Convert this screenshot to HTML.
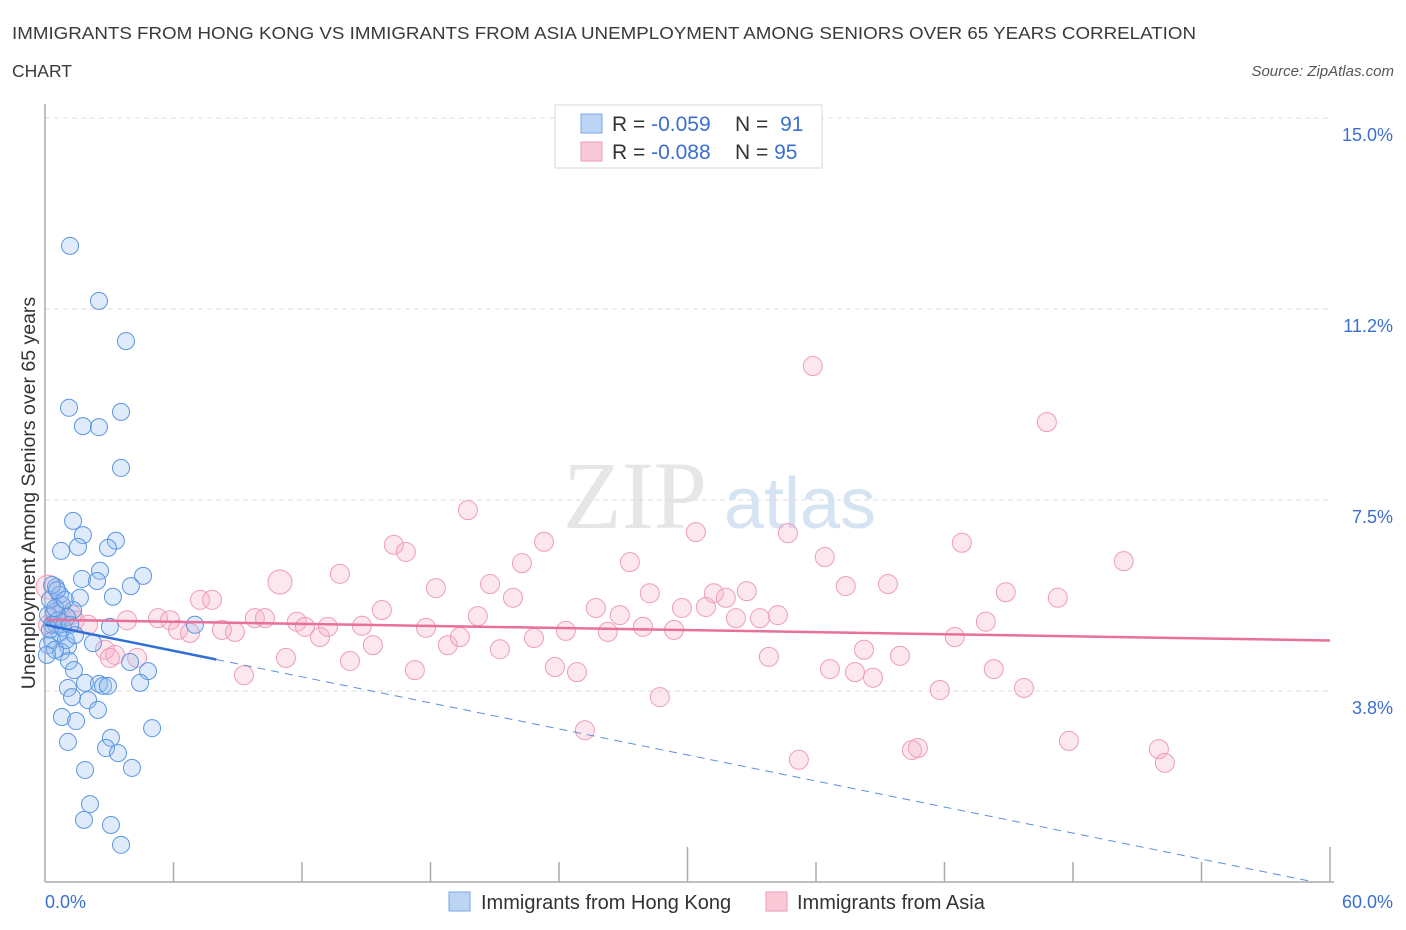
<!DOCTYPE html>
<html><head><meta charset="utf-8"><style>
body{margin:0;background:#fff;font-family:"Liberation Sans",sans-serif;}
svg{display:block}
</style></head><body>
<svg id="chart" width="1406" height="930">
<text x="12" y="39" font-size="17.5" fill="#3a3a3a" textLength="1184" lengthAdjust="spacingAndGlyphs">IMMIGRANTS FROM HONG KONG VS IMMIGRANTS FROM ASIA UNEMPLOYMENT AMONG SENIORS OVER 65 YEARS CORRELATION</text>
<text x="12" y="77" font-size="17.5" fill="#3a3a3a">CHART</text>
<text x="1394" y="76" font-size="15" font-style="italic" fill="#555" text-anchor="end">Source: ZipAtlas.com</text>
<text x="635" y="528" font-size="96" font-family="Liberation Serif,serif" fill="#e6e6e6" text-anchor="middle">ZIP</text>
<text x="800" y="528" font-size="72" fill="#d5e3f3" text-anchor="middle">atlas</text>
<g id="grid"></g><g id="axes"></g><g id="pts"></g><g id="trend"></g>
<text transform="translate(35,493) rotate(-90)" font-size="19.5" fill="#333" text-anchor="middle">Unemployment Among Seniors over 65 years</text>
<text x="45" y="908" font-size="18" fill="#3a6fd0">0.0%</text>
<text x="1393" y="908" font-size="18" fill="#3a6fd0" text-anchor="end">60.0%</text>
<g>
<rect x="555" y="105" width="267" height="63" fill="#fff" stroke="#d8d8d8"/>
<rect x="581" y="114" width="21" height="19" fill="#bcd5f5" stroke="#7aa6e6"/>
<rect x="581" y="142" width="21" height="19" fill="#f9c9d8" stroke="#ee9ab5"/>
<text x="612" y="131" font-size="21" fill="#333">R = <tspan fill="#3a6fd0">-0.059</tspan></text>
<text x="735" y="131" font-size="21" fill="#333">N = <tspan fill="#3a6fd0" dx="6">91</tspan></text>
<text x="612" y="159" font-size="21" fill="#333">R = <tspan fill="#3a6fd0">-0.088</tspan></text>
<text x="735" y="159" font-size="21" fill="#333">N = <tspan fill="#3a6fd0">95</tspan></text>
</g>
<g>
<rect x="449" y="892" width="21" height="19" fill="#bcd5f5" stroke="#7aa6e6"/>
<text x="481" y="909" font-size="20" fill="#333">Immigrants from Hong Kong</text>
<rect x="766" y="892" width="21" height="19" fill="#f9c9d8" stroke="#ee9ab5"/>
<text x="797" y="909" font-size="20" fill="#333">Immigrants from Asia</text>
</g>
</svg>
<script>
const yTicks=[3.75,7.5,11.25,15];
const yTickLabels=["3.8%","7.5%","11.2%","15.0%"];
const xTicks=[0,6,12,18,24,30,36,42,48,54,60];
const blueX=[1.17,2.52,3.78,1.12,3.55,1.77,2.52,3.55,1.31,1.77,3.31,0.75,1.54,2.94,2.57,4.58,1.73,2.43,4.01,0.51,3.17,1.63,0.79,1.31,0.42,1.03,7.00,0.51,3.03,0.70,2.24,0.33,1.07,0.75,3.97,1.12,4.81,1.35,4.44,1.07,1.87,2.52,2.71,2.94,2.01,1.26,2.47,0.79,1.45,1.07,3.08,2.85,3.41,5.00,1.87,4.06,2.10,1.82,3.08,3.55,0.23,0.14,0.33,0.23,0.14,0.47,0.61,0.84,0.98,0.09,0.70,0.47,1.17,1.40,0.93,0.33,0.56];
const blueY=[12.49,11.41,10.62,9.31,9.23,8.95,8.93,8.13,7.09,6.81,6.70,6.50,6.58,6.56,6.11,6.01,5.95,5.91,5.81,5.79,5.60,5.58,5.44,5.34,5.30,5.20,5.05,5.05,5.01,4.89,4.69,4.75,4.63,4.52,4.32,4.34,4.14,4.16,3.91,3.81,3.91,3.89,3.85,3.85,3.57,3.63,3.38,3.24,3.16,2.75,2.83,2.63,2.53,3.02,2.20,2.24,1.53,1.22,1.12,0.73,5.54,5.24,5.05,4.95,4.65,4.56,5.14,4.99,4.75,4.46,5.64,5.38,5.05,4.85,5.54,5.83,5.73];
const pinkX=[0.14,0.70,1.26,0.14,1.40,2.01,2.80,3.27,3.83,4.30,5.28,5.84,6.21,6.77,7.24,7.80,8.26,8.87,9.29,9.80,10.27,10.97,11.25,11.76,12.14,12.84,13.21,13.77,14.24,14.80,15.31,15.73,16.29,16.85,17.27,17.79,18.25,18.81,19.37,19.75,20.21,20.78,21.24,21.85,22.27,22.83,23.30,23.81,24.32,24.84,25.21,25.72,26.28,26.84,27.31,27.92,28.24,28.71,29.37,29.74,30.39,30.86,31.23,31.79,32.26,32.77,33.38,33.80,34.22,34.69,35.20,35.85,36.41,36.65,37.39,37.82,38.24,38.66,39.36,39.92,40.48,40.76,41.78,42.48,42.81,43.93,44.30,44.86,45.71,46.78,47.29,47.81,50.37,52.01,52.29,0.47,3.03];
const pinkY=[5.79,5.44,5.24,5.05,5.14,5.05,4.56,4.46,5.14,4.40,5.18,5.14,4.95,4.89,5.54,5.54,4.95,4.91,4.06,5.18,5.18,5.89,4.40,5.11,5.01,4.81,5.01,6.05,4.34,5.03,4.65,5.34,6.62,6.48,4.16,4.99,5.77,4.65,4.81,7.30,5.22,5.85,4.57,5.58,6.26,4.79,6.68,4.22,4.93,4.12,2.98,5.38,4.91,5.24,6.28,5.01,5.67,3.63,4.95,5.38,6.87,5.40,5.67,5.58,5.18,5.71,5.18,4.42,5.24,6.85,2.40,10.13,6.38,4.18,5.81,4.12,4.56,4.01,5.85,4.44,2.59,2.63,3.77,4.81,6.66,5.11,4.18,5.69,3.81,9.03,5.58,2.77,6.30,2.61,2.34,5.24,4.40];
const blueTrend=[5.05,-0.0852];
const pinkTrend=[5.15,-0.0068];
const NS="http://www.w3.org/2000/svg";
const X0=45,X1=1330,Y0=882,Y15=118;
function sx(v){return X0+v/60*(X1-X0);}
function sy(v){return Y0-v/15*(Y0-Y15);}
function mk(parent,tag,attrs){const e=document.createElementNS(NS,tag);for(const k in attrs)e.setAttribute(k,attrs[k]);document.getElementById(parent).appendChild(e);return e;}
yTicks.forEach((t,i)=>{
 const l=mk('grid','line',{x1:X0,x2:X1,y1:sy(t),y2:sy(t),stroke:'#dcdcdc','stroke-dasharray':'5,4'});
 
 
 const tx=mk('grid','text',{x:1393,y:sy(t)+23,'font-size':18,fill:'#3a6fd0','text-anchor':'end'});
 tx.textContent=yTickLabels[i];
 
 
});
let a=mk('axes','line',{x1:X0,x2:X0,y1:104,y2:Y0,stroke:'#aaa','stroke-width':1.5});


a=mk('axes','line',{x1:X0,x2:X1+4,y1:Y0,y2:Y0,stroke:'#aaa','stroke-width':1.5});


xTicks.forEach(t=>{if(t===0)return;const tall=(t%30===0);
 const l=mk('axes','line',{x1:sx(t),x2:sx(t),y1:tall?847:862,y2:Y0,stroke:'#aaa','stroke-width':1.5});
 
 
});
pinkX.forEach((x,i)=>{const r=(i===0||i===21)?12:9.5;
 const c=mk('pts','circle',{cx:sx(x),cy:sy(pinkY[i]),r:r,fill:'rgba(246,175,198,0.3)',stroke:'#ef9cb8','stroke-width':1});
 
 
});
blueX.forEach((x,i)=>{
 const c=mk('pts','circle',{cx:sx(x),cy:sy(blueY[i]),r:8.5,fill:'rgba(150,190,240,0.3)',stroke:'#5a95e2','stroke-width':1});
 
 
});
let t=mk('trend','line',{x1:sx(0),y1:sy(blueTrend[0]),x2:sx(8),y2:sy(blueTrend[0]+blueTrend[1]*8),stroke:'#2f6fd6','stroke-width':2.5});


const xe=-blueTrend[0]/blueTrend[1];
t=mk('trend','line',{x1:sx(8),y1:sy(blueTrend[0]+blueTrend[1]*8),x2:sx(xe),y2:sy(0),stroke:'#5b8fdc','stroke-width':1,'stroke-dasharray':'8,6'});


t=mk('trend','line',{x1:sx(0),y1:sy(pinkTrend[0]),x2:sx(60),y2:sy(pinkTrend[0]+pinkTrend[1]*60),stroke:'#e8709a','stroke-width':2.5});


</script>
</body></html>
